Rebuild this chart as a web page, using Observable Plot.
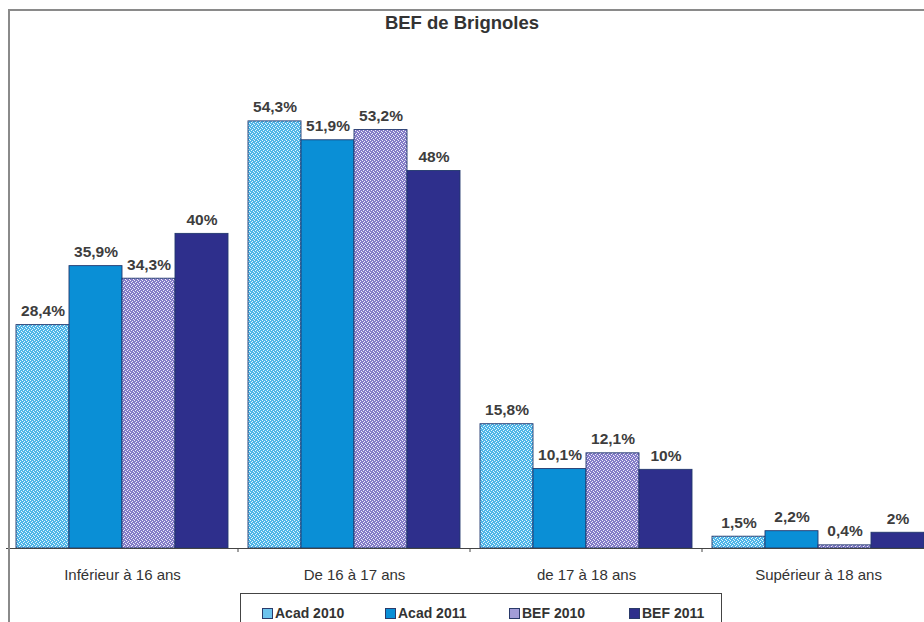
<!DOCTYPE html>
<html>
<head>
<meta charset="utf-8">
<script src="https://cdn.jsdelivr.net/npm/d3@7"></script>
<script src="https://cdn.jsdelivr.net/npm/@observablehq/plot@0.6"></script>
<style>
  html, body { margin: 0; padding: 0; background: #fff; }
  #wrap { position: relative; width: 924px; height: 622px; overflow: hidden; font-family: "Liberation Sans", Arial, sans-serif; }
  #frame { position: absolute; left: 8px; top: 9px; width: 940px; height: 640px; border-top: 2px solid #8a8a8a; border-left: 2px solid #8a8a8a; pointer-events: none; }
  #title { position: absolute; top: 12px; left: 0; width: 924px; text-align: center; font-weight: bold; font-size: 18.5px; color: #333; }
  #legend { position: absolute; left: 240px; top: 593px; width: 482px; height: 40px; border: 1px solid #444; box-sizing: border-box; }
  .item { position: absolute; top: 11px; font-weight: bold; font-size: 14px; color: #333; white-space: nowrap; line-height: 16px; }
  .sw { display: inline-block; width: 9px; height: 9px; border: 1px solid #2a3a6a; margin-right: 2px; vertical-align: -1px; }
</style>
</head>
<body>
<div id="wrap">
  <div id="chart"></div>
  <div id="frame"></div>
  <div id="title">BEF de Brignoles</div>
  <div id="legend"></div>
</div>
<script>
const categories = ["Inférieur à 16 ans", "De 16 à 17 ans", "de 17 à 18 ans", "Supérieur à 18 ans"];
const series = ["Acad 2010", "Acad 2011", "BEF 2010", "BEF 2011"];
const acad2010 = [28.4, 54.3, 15.8, 1.5];
const acad2011 = [35.9, 51.9, 10.1, 2.2];
const bef2010 = [34.3, 53.2, 12.1, 0.4];
const bef2011 = [40, 48, 10, 2];

const valuesBySeries = [acad2010, acad2011, bef2010, bef2011];
const data = categories.flatMap((c, i) =>
  series.map((s, j) => ({ category: c, series: s, value: valuesBySeries[j][i] }))
);
const fmt = v => String(v).replace(".", ",") + "%";

const fills = ["url(#patA)", "#0a8fd6", "url(#patB)", "#2e2f8c"];
const legendSwatches = ["#6cc3ee", "#0a8fd6", "#a29dd8", "#2e2f8c"];
const legendX = [21, 144, 268, 388];

const pad = 20 / 232;
const plot = Plot.plot({
  width: 924,
  height: 590,
  marginLeft: 6,
  marginRight: -10,
  marginTop: 10,
  marginBottom: 42,
  style: { fontFamily: "'Liberation Sans', Arial, sans-serif", fontSize: "15px", background: "transparent", overflow: "visible" },
  facet: { data, x: "category" },
  fx: { domain: categories, paddingInner: pad, paddingOuter: pad / 2, axis: "bottom", tickSize: 0, tickPadding: 21, label: null },
  x: { domain: series, padding: 0, axis: null },
  y: { domain: [0, 68.4], axis: null },
  color: { domain: series, range: fills },
  marks: [
    Plot.barY(data, { x: "series", y: "value", fill: "series", stroke: "#22386e", strokeWidth: 0.9 }),
    Plot.text(data, { x: "series", y: "value", text: d => fmt(d.value), lineAnchor: "bottom", dy: -9, fontWeight: "bold", fontSize: 15.5, fill: "#3d3d3d" }),
    Plot.ruleY([0], { stroke: "#444", strokeWidth: 1, insetLeft: -10, insetRight: -10 })
  ]
});

// patterns
const ns = "http://www.w3.org/2000/svg";
const defs = document.createElementNS(ns, "defs");
function makePattern(id, base, dot) {
  const p = document.createElementNS(ns, "pattern");
  p.setAttribute("id", id);
  p.setAttribute("width", 4);
  p.setAttribute("height", 4);
  p.setAttribute("patternUnits", "userSpaceOnUse");
  const r = document.createElementNS(ns, "rect");
  r.setAttribute("width", 4); r.setAttribute("height", 4); r.setAttribute("fill", base);
  p.appendChild(r);
  [[0, 0], [2, 1], [1, 2], [3, 3]].forEach(([x, y]) => {
    const d = document.createElementNS(ns, "rect");
    d.setAttribute("x", x); d.setAttribute("y", y);
    d.setAttribute("width", 1); d.setAttribute("height", 1);
    d.setAttribute("fill", dot);
    p.appendChild(d);
  });
  defs.appendChild(p);
}
makePattern("patA", "#4fb6e8", "#e8f6fd");
makePattern("patB", "#847dc8", "#f0eefa");
plot.insertBefore(defs, plot.firstChild);

// ticks at category boundaries, from the fx scale
const fx = plot.scale("fx");
const bw = fx.bandwidth, step = fx.step;
const gTicks = d3.select(plot).append("g").attr("stroke", "#444").attr("stroke-width", 1);
const yBase = plot.scale("y").apply(0);
categories.slice(0, -1).forEach(c => {
  const xb = fx.apply(c) + bw + (step - bw) / 2;
  gTicks.append("line").attr("x1", xb).attr("x2", xb).attr("y1", yBase).attr("y2", yBase + 4);
});
d3.select(plot).selectAll("g[aria-label^='fx-axis']").attr("font-size", "15px").selectAll("text").attr("fill", "#333");

document.getElementById("chart").appendChild(plot);

const legend = document.getElementById("legend");
series.forEach((s, i) => {
  const it = document.createElement("div");
  it.className = "item";
  it.style.left = legendX[i] + "px";
  it.innerHTML = `<span class="sw" style="background:${legendSwatches[i]}"></span>${s}`;
  legend.appendChild(it);
});
</script>
</body>
</html>
